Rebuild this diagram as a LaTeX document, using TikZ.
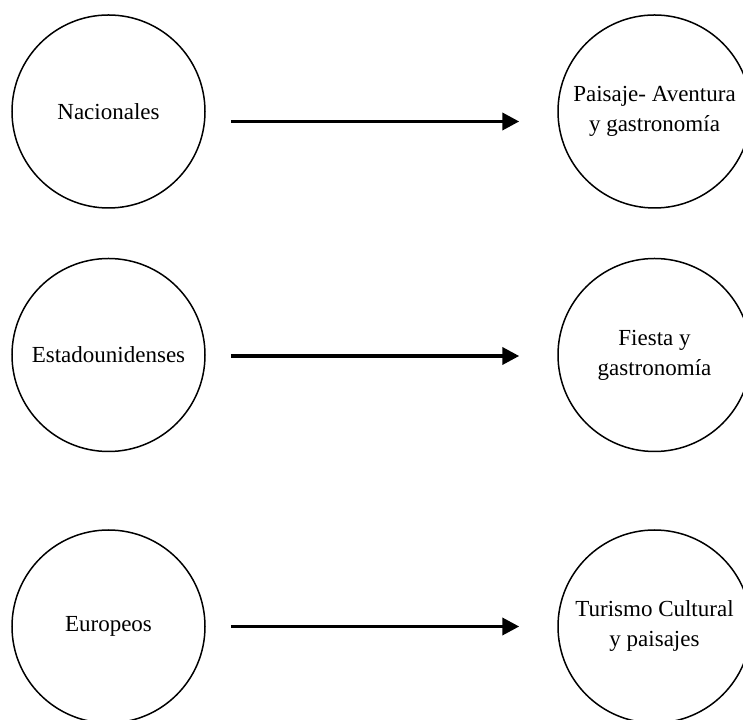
\documentclass[tikz,border=0pt]{standalone}
\usepackage{fontspec}
\setmainfont{Liberation Serif}
\usetikzlibrary{arrows.meta}
\begin{document}
\begin{tikzpicture}[x=1pt,y=1pt,
  bub/.style={draw=black,line width=1.5pt,circle,minimum size=193pt,inner sep=0pt,align=center,
    font=\fontsize{23}{30}\selectfont},
  arr/.style={line width=3.8pt,-{Triangle[length=17pt,width=17pt]}}]
\clip (0,0) rectangle (743,719);
\useasboundingbox (0,0) rectangle (743,719);
\fill[white] (0,0) rectangle (743,719);
\node[bub] (L1) at (108.5,607.5) {Nacionales};
\node[bub] (L2) at (108.5,364) {Estadounidenses};
\node[bub] (L3) at (108.5,92.5) {Europeos};
\node[bub] (R1) at (654.5,607.5) {Paisaje- Aventura\\y gastronomía};
\node[bub] (R2) at (654.5,364) {Fiesta y\\gastronomía};
\node[bub] (R3) at (654.5,92.5) {Turismo Cultural\\y paisajes};
\draw[arr] ([shift={(25,-10)}]L1.east) -- ([shift={(-38,-10)}]R1.west);
\draw[arr] ([shift={(25,-1)}]L2.east) -- ([shift={(-38,-1)}]R2.west);
\draw[arr] ([shift={(25,0)}]L3.east) -- ([shift={(-38,0)}]R3.west);
\end{tikzpicture}
\end{document}
